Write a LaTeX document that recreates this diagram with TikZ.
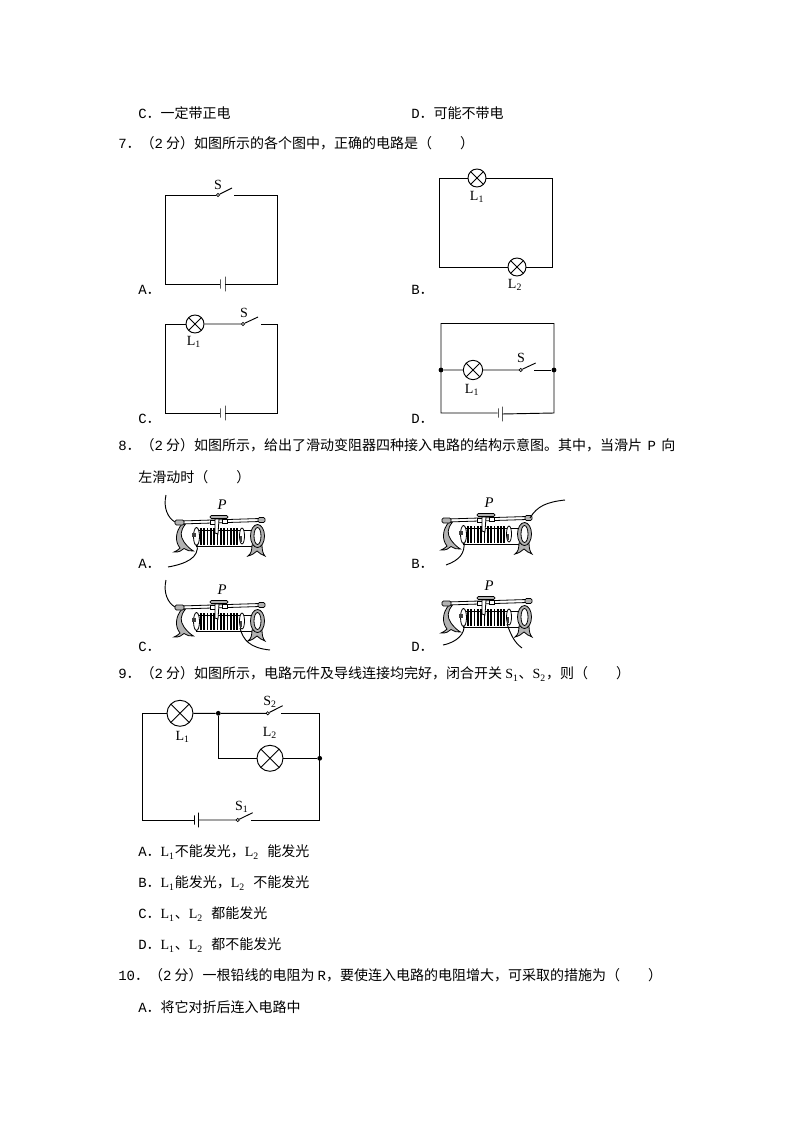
\documentclass[tikz,border=0pt]{standalone}
\usepackage{fontspec}
\setmainfont{Noto Sans CJK SC}
\newfontfamily\serf{Liberation Serif}
\newfontfamily\monof{Liberation Mono}
\usetikzlibrary{shapes,positioning}
\tikzset{
  wire/.style={black,line width=0.7pt},
  txt/.style={anchor=west,font=\fontsize{10.5pt}{12pt}\selectfont},
  tag/.style={font=\serf\fontsize{10.5pt}{12pt}\selectfont},
  lamp/.style={draw,circle,line width=0.7pt,minimum size=#1,path picture={
    \draw[line width=0.6pt] (path picture bounding box.north west) -- (path picture bounding box.south east);
    \draw[line width=0.6pt] (path picture bounding box.north east) -- (path picture bounding box.south west);}},
  contact/.style={draw,circle,line width=0.5pt,minimum size=2.4pt,fill=white},
  joint/.style={fill=black,circle,minimum size=3.6pt},
  plateshort/.style={draw,line width=0.7pt,minimum width=0pt,minimum height=7pt},
  platelong/.style={draw,line width=0.7pt,minimum width=0pt,minimum height=11pt},
  metal/.style={draw=black,line width=0.6pt,fill=black!30},
  rheo/.pic={
    \draw[line width=0.6pt,fill=white] (122,40) -- (66,40) -- (66,56) -- (122,56);
    \foreach \cx in {71,74.3,77.6,80.9,84.2,87.5,90.8,94.1,97.4,100.7,104,107}
      \draw[line width=1.25pt] (\cx,38) -- (\cx,55);
    \draw[line width=0.6pt,fill=white] (66.5,46.5) ellipse [x radius=3,y radius=9];
    \fill[black!75] (62,43) rectangle (66,47);
    \draw[line width=0.6pt,fill=white] (112,46) ellipse [x radius=2.5,y radius=8];
    \fill[black!75] (109.5,46) rectangle (112,52);
    \draw[metal] (52,34) .. controls (45,42) and (45,52) .. (50,58) .. controls (48,60) and (46,61.5) .. (44,62)
      .. controls (49,62.5) and (52,60.5) .. (54,58.5) .. controls (57,60) and (60,62) .. (63.5,61) .. controls (60,59) and (57,56) .. (54,52)
      .. controls (50,46) and (50,41) .. (55.5,34) -- cycle;
    \draw[metal] (118,66) .. controls (121,64) and (122,60) .. (122,55) -- (132,55) .. controls (132,60) and (133,64) .. (135,66) .. controls (132,65) and (129,63) .. (127,61) .. controls (125,63) and (122,65) .. (118,66) -- cycle;
    \draw[metal] (127.5,46) ellipse [x radius=7,y radius=11.5];
    \draw[line width=0.6pt,fill=white] (127.5,46) ellipse [x radius=3.5,y radius=8.5];
    \draw[line width=0.6pt,fill=white] (50,31) -- (130,28.5) -- (130,31.5) -- (50,34) -- cycle;
    \draw[metal,rounded corners=1pt] (45,30) rectangle (54,35);
    \draw[metal,rounded corners=1pt] (128,27.5) rectangle (135,32.5);
    \draw[line width=0.6pt,fill=white] (80,30) rectangle (85,34);
    \draw[line width=0.6pt,fill=white] (92,29.5) rectangle (97,33.5);
    \draw[line width=0.6pt,fill=white] (85,29) -- (85,43) -- (88,44) -- (89,29) -- cycle;
    \draw[metal,rounded corners=1pt] (80,25.5) rectangle (98,28.5);
    \node (-slider) at (92,15) {\serf\itshape\fontsize{11pt}{12pt}\selectfont P};
    \coordinate (-knobl) at (45,32);
    \coordinate (-knobr) at (133,30);
    \coordinate (-tapl) at (67,54);
    \coordinate (-tapr) at (110,53);
  }
}
\begin{document}
\begin{tikzpicture}[x=0.75pt,y=-0.75pt]
\tikzstyle{every node}+=[inner sep=0pt]
\useasboundingbox (0,0) rectangle (794,1123);
\node[txt] (optc) at (138,113) {{\monof C}．一定带正电};
\node[txt] (optd) at (411,113) {{\monof D}．可能不带电};
\node[txt] (qseven) at (118,143) {{\monof 7}．（{\monof 2} 分）如图所示的各个图中，正确的电路是（　　）};
% question 7, A
\coordinate (atl) at (165,195);
\coordinate (atr) at (277,195);
\coordinate (abr) at (277,284);
\coordinate (abl) at (165,284);
\coordinate (asr) at (234,195);
\coordinate (asa) at (232,188);
\node[contact] (as) at (218,195) {};
\node[plateshort] (abs) at (220,284) {};
\node[platelong] (abb) at (225,284) {};
\draw[wire] (as) -- (atl) -- (abl) -- (abs);
\draw[wire] (abb) -- (abr) -- (atr) -- (asr);
\draw[wire] (as) -- (asa);
\node[tag] (aS) at (218,185) {S};
\node[txt] (laba) at (138,290) {{\monof A}．};
% question 7, B
\coordinate (btl) at (439,178);
\coordinate (btr) at (552,178);
\coordinate (bbr) at (552,267);
\coordinate (bbl) at (439,267);
\node[lamp=13.5pt] (blone) at (477,178) {};
\node[lamp=13.5pt] (bltwo) at (517,267) {};
\draw[wire] (blone) -- (btl) -- (bbl) -- (bltwo) -- (bbr) -- (btr) -- (blone);
\node[tag] (bLone) at (477,197) {L\textsubscript{1}};
\node[tag] (bLtwo) at (515,285) {L\textsubscript{2}};
\node[txt] (labb) at (411,290) {{\monof B}．};
% question 7, C
\coordinate (ctl) at (165,324);
\coordinate (ctr) at (277,324);
\coordinate (cbr) at (277,413);
\coordinate (cbl) at (165,413);
\coordinate (csr) at (261,324);
\coordinate (csa) at (258,317);
\node[lamp=13.5pt] (clone) at (195,324) {};
\node[contact] (cs) at (243,324) {};
\node[plateshort] (cbs) at (220,413) {};
\node[platelong] (cbb) at (225,413) {};
\draw[wire] (clone) -- (ctl) -- (cbl) -- (cbs);
\draw[wire] (cbb) -- (cbr) -- (ctr) -- (csr);
\draw[wire] (clone) -- (cs) -- (csa);
\node[tag] (cLone) at (194,342) {L\textsubscript{1}};
\node[tag] (cS) at (244,313) {S};
\node[txt] (labc) at (138,419) {{\monof C}．};
% question 7, D
\coordinate (dtl) at (441,323.5);
\coordinate (dtr) at (554,323.5);
\coordinate (dbr) at (554,413);
\coordinate (dbl) at (441,413);
\coordinate (dsr) at (534,370);
\coordinate (dsa) at (535.7,363);
\node[joint] (dml) at (441,370) {};
\node[joint] (dmr) at (554,370) {};
\node[lamp=14.5pt] (dlone) at (473,370) {};
\node[contact] (ds) at (520.7,370) {};
\node[plateshort] (dbs) at (498,413) {};
\node[platelong] (dbb) at (502,414) {};
\draw[wire] (dbs) -- (dbl) -- (dtl) -- (dtr) -- (dbr) -- (dbb);
\draw[wire] (dml) -- (dlone) -- (ds) -- (dsa);
\draw[wire] (dsr) -- (dmr);
\node[tag] (dLone) at (472,390) {L\textsubscript{1}};
\node[tag] (dS) at (521,358) {S};
\node[txt] (labd) at (411,419) {{\monof D}．};
% question 8
\node[txt] (qeight) at (118,445) {{\monof 8}．（{\monof 2} 分）如图所示，给出了滑动变阻器四种接入电路的结构示意图。其中，当滑片\hspace{4pt}{\monof P}\hspace{4pt}向};
\node[txt] (qeightb) at (138,477) {左滑动时（　　）};
\pic (ra) at (130,490) {rheo};
\pic (rb) at (397,488) {rheo};
\pic (rc) at (130,575) {rheo};
\pic (rd) at (397,571) {rheo};
\coordinate (waone) at (166,495);
\coordinate (watwo) at (168,567);
\coordinate (wbone) at (565,500);
\coordinate (wbtwo) at (446,565);
\coordinate (wcone) at (166,580);
\coordinate (wctwo) at (270,650);
\coordinate (wdone) at (443,645);
\coordinate (wdtwo) at (522,648);
\draw[wire] (ra-knobl) .. controls (168,518) and (163,508) .. (waone);
\draw[wire] (ra-tapl) .. controls (200,558) and (185,564) .. (watwo);
\draw[wire] (rb-knobr) .. controls (537,506) and (547,502) .. (wbone);
\draw[wire] (rb-tapl) .. controls (465,553) and (460,560) .. (wbtwo);
\draw[wire] (rc-knobl) .. controls (168,603) and (163,593) .. (wcone);
\draw[wire] (rc-tapr) .. controls (243,640) and (250,648) .. (wctwo);
\draw[wire] (rd-tapl) .. controls (465,633) and (458,642) .. (wdone);
\draw[wire] (rd-tapr) .. controls (511,635) and (514,642) .. (wdtwo);
\node[txt] (labra) at (138,564) {{\monof A}．};
\node[txt] (labrb) at (411,564) {{\monof B}．};
\node[txt] (labrc) at (138,647) {{\monof C}．};
\node[txt] (labrd) at (411,647) {{\monof D}．};
% question 9
\node[txt] (qnine) at (118,674) {{\monof 9}．（{\monof 2} 分）如图所示，电路元件及导线连接均完好，闭合开关 {\serf S\textsubscript{1}}、{\serf S\textsubscript{2}}，则（　　）};
\coordinate (ntl) at (142.3,713.3);
\coordinate (ntr) at (319.7,713.3);
\coordinate (nbr) at (319.7,820);
\coordinate (nbl) at (142.3,820);
\coordinate (njb) at (218.3,758.3);
\coordinate (nstr) at (281,713.3);
\coordinate (nsta) at (282.7,705.7);
\coordinate (nsor) at (251,820);
\coordinate (nsoa) at (252.7,812.7);
\node[lamp=19.5pt] (nlone) at (180,713.3) {};
\node[lamp=19.5pt] (nltwo) at (270,758.3) {};
\node[joint] (nja) at (218.3,713.3) {};
\node[joint] (njr) at (319.7,758.3) {};
\node[contact] (nst) at (267.7,713.3) {};
\node[contact] (nso) at (237.7,820) {};
\node[plateshort] (nbs) at (194.3,820) {};
\node[platelong] (nbb) at (198.3,820) {};
\draw[wire] (nlone) -- (ntl) -- (nbl) -- (nbs);
\draw[wire] (nbb) -- (nso) -- (nsoa);
\draw[wire] (nsor) -- (nbr) -- (ntr) -- (nstr);
\draw[wire] (nlone) -- (nja) -- (nst) -- (nsta);
\draw[wire] (nja) -- (njb) -- (nltwo) -- (njr);
\node[tag] (nLone) at (182.7,737) {L\textsubscript{1}};
\node[tag] (nLtwo) at (270,733) {L\textsubscript{2}};
\node[tag] (nSt) at (270,702) {S\textsubscript{2}};
\node[tag] (nSo) at (241.7,807) {S\textsubscript{1}};
\node[txt] (nopta) at (138,852) {{\monof A}．{\serf L\textsubscript{1}}不能发光，{\serf L\textsubscript{2}}{\monof\ }能发光};
\node[txt] (noptb) at (138,883) {{\monof B}．{\serf L\textsubscript{1}}能发光，{\serf L\textsubscript{2}}{\monof\ }不能发光};
\node[txt] (noptc) at (138,914) {{\monof C}．{\serf L\textsubscript{1}}、{\serf L\textsubscript{2}}{\monof\ }都能发光};
\node[txt] (noptd) at (138,945) {{\monof D}．{\serf L\textsubscript{1}}、{\serf L\textsubscript{2}}{\monof\ }都不能发光};
% question 10
\node[txt] (qten) at (118,975) {{\monof 10}．（{\monof 2} 分）一根铅线的电阻为 {\monof R}，要使连入电路的电阻增大，可采取的措施为（　　）};
\node[txt] (qtena) at (138,1007) {{\monof A}．将它对折后连入电路中};
\end{tikzpicture}
\end{document}
